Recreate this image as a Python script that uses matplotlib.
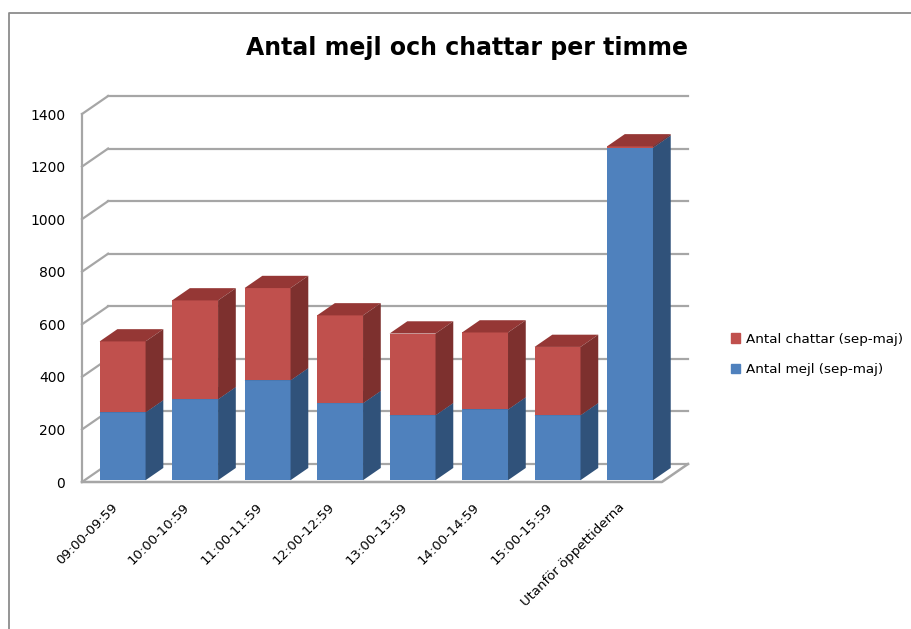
import numpy as np
import matplotlib
matplotlib.use('Agg')
import matplotlib.pyplot as plt
from matplotlib.patches import Polygon, Patch
from matplotlib.lines import Line2D
from matplotlib.transforms import ScaledTranslation

#%% Data
kategorier = ['09:00-09:59', '10:00-10:59', '11:00-11:59', '12:00-12:59',
              '13:00-13:59', '14:00-14:59', '15:00-15:59', 'Utanför öppettiderna']
antal_mejl = [258, 308, 380, 293, 247, 269, 247, 1265]
antal_chattar = [270, 376, 351, 334, 311, 293, 260, 5]
y_ticks = [0, 200, 400, 600, 800, 1000, 1200, 1400]

#%% Färger
blå = '#4f81bd'
blå_sida = '#30527a'
blå_topp = '#3d6699'
röd = '#c0504d'
röd_sida = '#7d302e'
röd_topp = '#953735'
grå = '#a6a6a6'

#%% "3D"-parametrar: djupförskjutning i dataenheter
DX = 0.36      # kategorier
DY = 68.5      # värden
d_fram = 0.1   # framsida av staplarna (andel av djupet)
d_bak = 0.78   # baksida
bredd = 0.634
ddx = (d_bak - d_fram) * DX
ddy = (d_bak - d_fram) * DY

n = len(kategorier)
W, H = 911., 629.
fig = plt.figure(figsize=(W / 100, H / 100), dpi=100)
ax = fig.add_axes([82 / W, 1 - 482 / H, (688 - 82) / W, (482 - 96) / H])
ax.set_xlim(0, n + DX)
ax.set_ylim(0, y_ticks[-1] + DY)
for s in ax.spines.values():
    s.set_visible(False)

#%% Väggar och golv
for v in y_ticks:
    ax.plot([DX, n + DX], [v + DY, v + DY], color=grå, lw=1.6, zorder=1, clip_on=False)
    ax.plot([0, DX], [v, v + DY], color=grå, lw=1.6, zorder=1, clip_on=False)
ax.plot([0, 0], [0, y_ticks[-1]], color=grå, lw=1.6, zorder=1, clip_on=False)
ax.plot([0, n, n + DX], [0, 0, DY], color=grå, lw=1.8, zorder=1, clip_on=False)

#%% Staplar
x = np.arange(n) + 0.56
bas = d_fram * DY
mejl = np.array(antal_mejl, dtype=float)
chatt = np.array(antal_chattar, dtype=float)

ax.bar(x, mejl, bredd, bottom=bas, color=blå, zorder=3)
ax.bar(x, chatt, bredd, bottom=bas + mejl, color=röd, zorder=3.2)


def låda(x0, y0, h, sida, topp, z):
    x1 = x0 + bredd
    ax.add_patch(Polygon([(x1, y0), (x1 + ddx, y0 + ddy), (x1 + ddx, y0 + h + ddy), (x1, y0 + h)],
                         closed=True, color=sida, lw=0, zorder=z + 0.05))
    ax.add_patch(Polygon([(x0, y0 + h), (x1, y0 + h), (x1 + ddx, y0 + h + ddy), (x0 + ddx, y0 + h + ddy)],
                         closed=True, color=topp, lw=0, zorder=z))


for i in range(n):
    x0 = x[i] - bredd / 2
    låda(x0, bas, mejl[i], blå_sida, blå_topp, 3.1)
    låda(x0, bas + mejl[i], chatt[i], röd_sida, röd_topp, 3.3)

#%% Axlar
ax.set_yticks(y_ticks)
ax.set_yticklabels([str(v) for v in y_ticks], fontsize=10)
ax.tick_params(axis='y', length=0, pad=12)
ax.set_xticks(np.arange(n) + 0.5)
ax.set_xticklabels(kategorier, fontsize=9.5, rotation=45, ha='right', va='center',
                   rotation_mode='anchor')
ax.tick_params(axis='x', length=0, pad=17)
for lab in ax.get_xticklabels():
    lab.set_transform(lab.get_transform() + ScaledTranslation(-0.03, 0, fig.dpi_scale_trans))

#%% Titel, legend och ram
fig.text(467 / W, 1 - 48 / H, 'Antal mejl och chattar per timme', ha='center', va='center',
         fontsize=17, fontweight='bold')
handles = [Patch(color=röd, label='Antal chattar (sep-maj)'),
           Patch(color=blå, label='Antal mejl (sep-maj)')]
fig.legend(handles=handles, loc='upper left', bbox_to_anchor=(724 / W, 1 - 326 / H),
           frameon=False, fontsize=9.7, borderpad=0, handlelength=0.72, handleheight=0.72,
           handletextpad=0.4, labelspacing=1.3)
fig.add_artist(Line2D([9 / W, 9 / W, 1], [0, 1 - 13 / H, 1 - 13 / H], color='#8c8c8c', lw=1.3))

plt.savefig('out.png', dpi=100)
